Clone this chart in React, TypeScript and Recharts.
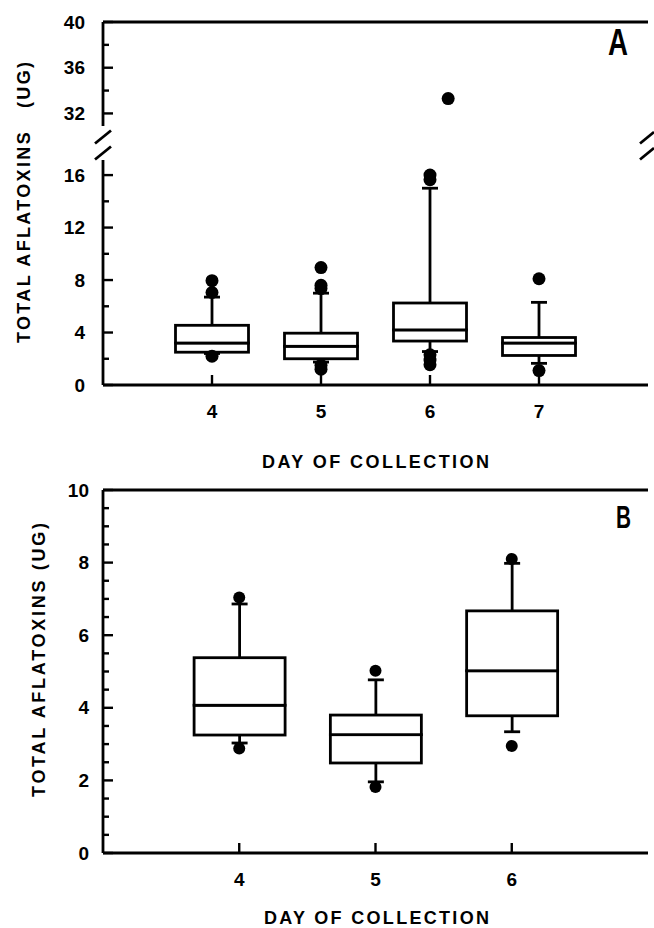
import React from 'react';
import { ComposedChart, Bar, Scatter, XAxis, YAxis, ReferenceLine } from 'recharts';

// ---------- DATA ----------
// Panel A (days 4-7)
const daysA = ['4', '5', '6', '7'];
const lowCapA = [2.4, 1.75, 2.55, 1.65];
const q1A = [2.5, 2.0, 3.35, 2.25];
const medA = [3.2, 2.95, 4.2, 3.2];
const q3A = [4.55, 3.95, 6.25, 3.62];
const highCapA = [6.7, 7.0, 15.0, 6.3];
const outliersA = [
  [7.95, 7.05, 2.2],
  [8.95, 7.6, 7.35, 1.5, 1.2],
  [33.3, 16.0, 15.65, 2.3, 1.9, 1.55],
  [8.1, 1.1],
];
const ticksALow = [0, 2, 4, 6, 8, 10, 12, 14, 16];
const ticksAHigh = [32, 34, 36, 38, 40];

// Panel B (days 4-6)
const daysB = ['4', '5', '6'];
const lowCapB = [3.03, 1.96, 3.34];
const q1B = [3.25, 2.48, 3.78];
const medB = [4.07, 3.26, 5.02];
const q3B = [5.38, 3.8, 6.67];
const highCapB = [6.86, 4.77, 7.98];
const outliersB = [
  [7.04, 2.88],
  [5.02, 1.82],
  [8.1, 2.95],
];
const ticksB = [0, 0.5, 1, 1.5, 2, 2.5, 3, 3.5, 4, 4.5, 5, 5.5, 6, 6.5, 7, 7.5, 8, 8.5, 9, 9.5, 10];

const OUT_KEYS = ['o0', 'o1', 'o2', 'o3', 'o4', 'o5'];

// ---------- HELPERS ----------
const FONT = "'Liberation Sans', Arial, Helvetica, sans-serif";
const SW = 2.8;

function buildRows(
  days: string[], lo: number[], q1: number[], med: number[], q3: number[], hi: number[],
  outs: number[][], keep: (v: number) => boolean
) {
  return days.map((day, i) => {
    const row: Record<string, any> = {
      day,
      base: lo[i],
      lw: q1[i] - lo[i],
      b1: med[i] - q1[i],
      b2: q3[i] - med[i],
      hw: hi[i] - q3[i],
    };
    outs[i].filter(keep).forEach((v, j) => {
      row['o' + j] = v;
    });
    return row;
  });
}

const rowsALow = buildRows(daysA, lowCapA, q1A, medA, q3A, highCapA, outliersA, (v) => v <= 17);
const rowsAHigh = buildRows(daysA, lowCapA, q1A, medA, q3A, highCapA, outliersA, (v) => v >= 30);
const rowsB = buildRows(daysB, lowCapB, q1B, medB, q3B, highCapB, outliersB, () => true);

const emptyShape = () => <g />;

const whisker = (side: 'top' | 'bottom', capW: number) => (p: any) => {
  const { x, y, width, height } = p;
  if (![x, y, width, height].every((n) => Number.isFinite(n))) return <g />;
  const cx = x + width / 2;
  const capY = side === 'top' ? y : y + height;
  return (
    <g>
      <line x1={cx} x2={cx} y1={y} y2={y + height} stroke="#000" strokeWidth={SW} />
      <line x1={cx - capW / 2} x2={cx + capW / 2} y1={capY} y2={capY} stroke="#000" strokeWidth={SW} />
    </g>
  );
};

const boxShape = (p: any) => {
  const { x, y, width, height } = p;
  if (![x, y, width, height].every((n) => Number.isFinite(n))) return <g />;
  return <rect x={x} y={y} width={width} height={height} fill="#fff" stroke="#000" strokeWidth={SW} />;
};

const dot = (r: number) => (p: any) =>
  Number.isFinite(p.cx) && Number.isFinite(p.cy) ? <circle cx={p.cx} cy={p.cy} r={r} fill="#000" /> : <g />;

const yTick = (majorEvery: number, gap: number) => (p: any) => {
  const { x, y, payload } = p;
  const v = Number(payload.value);
  const q = v / majorEvery;
  const major = Math.abs(q - Math.round(q)) < 1e-6;
  return (
    <g>
      <line x1={x} x2={x + (major ? 10 : 6)} y1={y} y2={y} stroke="#000" strokeWidth={2.4} />
      {major && (
        <text x={x - gap} y={y} textAnchor="end" dominantBaseline="central" fontSize={19}
          fontWeight="bold" fontFamily={FONT} fill="#000">{v}</text>
      )}
    </g>
  );
};

const xTick = (p: any) => {
  const { x, y, payload } = p;
  return (
    <g>
      <line x1={x} x2={x} y1={y} y2={y - 10} stroke="#000" strokeWidth={2.4} />
      <text x={x} y={y + 26} textAnchor="middle" dominantBaseline="central" fontSize={19}
        fontWeight="bold" fontFamily={FONT} fill="#000">{payload.value}</text>
    </g>
  );
};

function boxBars(boxW: number, capW: number) {
  return [
    <Bar key="base" dataKey="base" stackId="s" yAxisId="l" barSize={boxW} shape={emptyShape} isAnimationActive={false} />,
    <Bar key="lw" dataKey="lw" stackId="s" yAxisId="l" barSize={boxW} shape={whisker('bottom', capW)} isAnimationActive={false} />,
    <Bar key="b1" dataKey="b1" stackId="s" yAxisId="l" barSize={boxW} shape={boxShape} isAnimationActive={false} />,
    <Bar key="b2" dataKey="b2" stackId="s" yAxisId="l" barSize={boxW} shape={boxShape} isAnimationActive={false} />,
    <Bar key="hw" dataKey="hw" stackId="s" yAxisId="l" barSize={boxW} shape={whisker('top', capW)} isAnimationActive={false} />,
  ];
}

function outlierDots(r: number) {
  return OUT_KEYS.map((k) => (
    <Scatter key={k} dataKey={k} yAxisId="l" shape={dot(r)} isAnimationActive={false} />
  ));
}

const axisLine = { stroke: '#000', strokeWidth: SW };
const W = 654;
const PAD_A = 54.5;
const PAD_B = 68.1;

export default function App() {
  return (
    <div style={{ position: 'absolute', left: 0, top: 0, width: W, height: 928, background: '#fff', fontFamily: FONT }}>
      {/* Panel A - upper segment (broken axis) */}
      <div style={{ position: 'absolute', left: 0, top: 0 }}>
        <ComposedChart width={W} height={131} data={rowsAHigh} margin={{ top: 22, right: 6, bottom: 5, left: 43 }}>
          <XAxis dataKey="day" type="category" hide padding={{ left: PAD_A, right: PAD_A }} />
          <YAxis yAxisId="l" type="number" domain={[30.9, 40]} allowDataOverflow ticks={ticksAHigh} interval={0}
            width={60} tickSize={0} tickMargin={0} tick={yTick(4, 18)} axisLine={axisLine} />
          <YAxis yAxisId="r" orientation="right" type="number" domain={[30.9, 40]} allowDataOverflow
            width={0} tick={false} tickLine={false} axisLine={axisLine} />
          <ReferenceLine yAxisId="l" y={40} stroke="#000" strokeWidth={SW} />
          {outlierDots(6.5)}
        </ComposedChart>
      </div>

      {/* Panel A - lower segment */}
      <div style={{ position: 'absolute', left: 0, top: 130 }}>
        <ComposedChart width={W} height={350} data={rowsALow} margin={{ top: 30, right: 6, bottom: 55, left: 43 }}>
          <XAxis dataKey="day" type="category" padding={{ left: PAD_A, right: PAD_A }} height={40}
            interval={0} tickSize={0} tickMargin={0} tick={xTick} axisLine={axisLine} />
          <YAxis yAxisId="l" type="number" domain={[0, 17.15]} allowDataOverflow ticks={ticksALow} interval={0}
            width={60} tickSize={0} tickMargin={0} tick={yTick(4, 18)} axisLine={axisLine} />
          <YAxis yAxisId="r" orientation="right" type="number" domain={[0, 17.15]} allowDataOverflow
            width={0} tick={false} tickLine={false} axisLine={axisLine} />
          {boxBars(73, 16)}
          {outlierDots(6.5)}
        </ComposedChart>
      </div>

      {/* Panel B */}
      <div style={{ position: 'absolute', left: 0, top: 470 }}>
        <ComposedChart width={W} height={458} data={rowsB} margin={{ top: 20, right: 6, bottom: 35, left: 43 }}>
          <XAxis dataKey="day" type="category" padding={{ left: PAD_B, right: PAD_B }} height={40}
            interval={0} tickSize={0} tickMargin={0} tick={xTick} axisLine={axisLine} />
          <YAxis yAxisId="l" type="number" domain={[0, 10]} allowDataOverflow ticks={ticksB} interval={0}
            width={60} tickSize={0} tickMargin={0} tick={yTick(2, 14)} axisLine={axisLine} />
          <YAxis yAxisId="r" orientation="right" type="number" domain={[0, 10]} allowDataOverflow
            width={0} tick={false} tickLine={false} axisLine={axisLine} />
          <ReferenceLine yAxisId="l" y={10} stroke="#000" strokeWidth={SW} />
          {boxBars(91, 16)}
          {outlierDots(6)}
        </ComposedChart>
      </div>

      {/* Titles, panel letters, axis-break marks */}
      <svg width={W} height={928} style={{ position: 'absolute', left: 0, top: 0, pointerEvents: 'none' }}>
        <g stroke="#000" strokeWidth={SW}>
          <line x1={95} y1={143.5} x2={111} y2={130.5} />
          <line x1={95} y1={159.5} x2={111} y2={146.5} />
          <line x1={640} y1={143.5} x2={654} y2={132} />
          <line x1={640} y1={159.5} x2={654} y2={148} />
        </g>
        <text transform="translate(24,202.5) rotate(-90)" textAnchor="middle" dominantBaseline="central"
          fontSize={18} fontWeight="bold" fontFamily={FONT} fill="#000" textLength={281} lengthAdjust="spacing"
          style={{ whiteSpace: 'pre' }}>{'TOTAL AFLATOXINS   (UG)'}</text>
        <text x={375.5} y={461.5} textAnchor="middle" dominantBaseline="central" fontSize={18} fontWeight="bold"
          fontFamily={FONT} fill="#000" textLength={227} lengthAdjust="spacing" style={{ whiteSpace: 'pre' }}>
          {'DAY OF COLLECTION'}
        </text>
        <text x={608} y={55} fontSize={37} fontWeight={900} fontFamily={FONT} fill="#000" textLength={20}
          lengthAdjust="spacingAndGlyphs">A</text>

        <text transform="translate(38.5,660) rotate(-90)" textAnchor="middle" dominantBaseline="central"
          fontSize={18} fontWeight="bold" fontFamily={FONT} fill="#000" textLength={274} lengthAdjust="spacing"
          style={{ whiteSpace: 'pre' }}>{'TOTAL AFLATOXINS (UG)'}</text>
        <text x={376.5} y={917.5} textAnchor="middle" dominantBaseline="central" fontSize={18} fontWeight="bold"
          fontFamily={FONT} fill="#000" textLength={225} lengthAdjust="spacing" style={{ whiteSpace: 'pre' }}>
          {'DAY OF COLLECTION'}
        </text>
        <text x={616} y={528} fontSize={32} fontWeight={900} fontFamily={FONT} fill="#000" textLength={15}
          lengthAdjust="spacingAndGlyphs">B</text>
      </svg>
    </div>
  );
}
